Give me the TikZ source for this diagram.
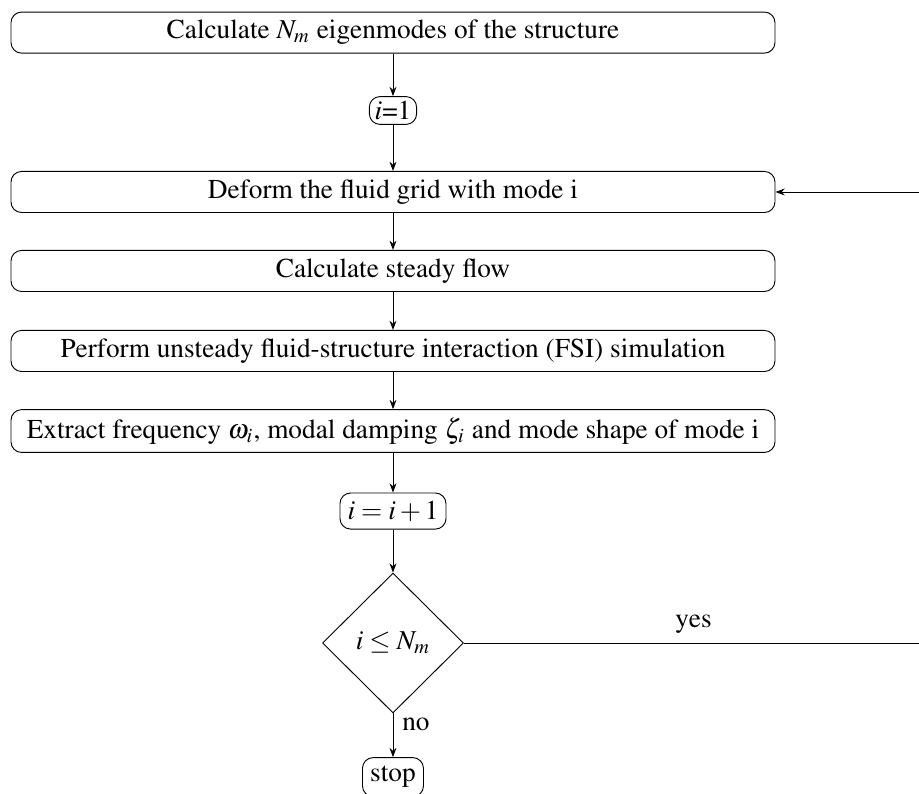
\documentclass[tikz,border=0pt]{standalone}
\usepackage[T1]{fontenc}
\usepackage{mathptmx}
\usepackage{tikz}
\usetikzlibrary{arrows.meta, positioning, shapes.geometric}

\begin{document}
\begin{tikzpicture}[
  font=\fontsize{10.3}{12.4}\selectfont, on grid,
  box/.style={rectangle, rounded corners=4pt, draw, line width=0.35pt,
    minimum width=288.3pt, minimum height=15.5pt, inner sep=3pt, align=center},
  term/.style={rectangle, rounded corners=4pt, draw, line width=0.35pt,
    inner xsep=2pt, inner ysep=1.7pt},
  decision/.style={diamond, draw, line width=0.35pt, aspect=1,
    minimum width=53.2pt, minimum height=52.8pt, inner sep=0pt},
  arr/.style={-{Stealth[length=3.5pt, width=2.6pt]}, line width=0.35pt}]
  \useasboundingbox (-148.3pt,12.3pt) rectangle (198.5pt,-287pt);
  \node[box] (eig) {Calculate $N_m$ eigenmodes of the structure};
  \node[term, below=29.4pt of eig] (init) {$i$=1};
  \node[box, below=30.75pt of init] (deform) {Deform the fluid grid with mode i};
  \node[box, below=29.8pt of deform] (steady) {Calculate steady flow};
  \node[box, below=30.2pt of steady] (fsi) {Perform unsteady fluid-structure interaction (FSI) simulation};
  \node[box, below=30.2pt of fsi] (extract) {Extract frequency $\omega_i$, modal damping $\zeta_i$ and mode shape of mode i};
  \node[term, minimum width=40pt, minimum height=13.6pt, below=30.2pt of extract] (incr) {$i=i+1$};
  \node[decision, below=49.8pt of incr] (check) {$i \leq N_m$};
  \node[term, minimum width=23pt, minimum height=14.7pt, below=50.6pt of check] (stop) {stop};
  \coordinate (loop) at (200pt,0);
  \draw[arr] (eig) -- (init);
  \draw[arr] (init) -- (deform);
  \draw[arr] (deform) -- (steady);
  \draw[arr] (steady) -- (fsi);
  \draw[arr] (fsi) -- (extract);
  \draw[arr] (extract) -- (incr);
  \draw[arr] (incr) -- (check);
  \draw[arr] (check) -- node[near start, right] {no} (stop);
  \draw[arr] (check.east) -- node[midway, above] {yes} (check -| loop) |- (deform.east);
\end{tikzpicture}
\end{document}
